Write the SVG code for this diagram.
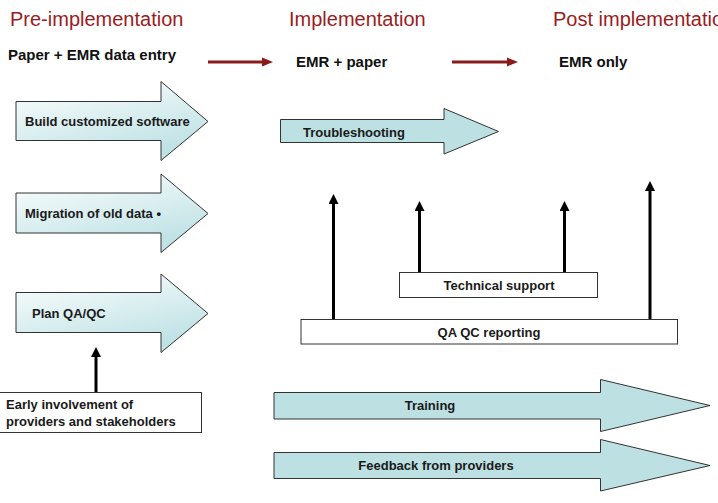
<svg xmlns="http://www.w3.org/2000/svg" width="718" height="503" viewBox="0 0 718 503">
<defs>
<linearGradient id="grad" x1="0" y1="0" x2="0.5" y2="1">
<stop offset="0" stop-color="#ffffff"/>
<stop offset="1" stop-color="#bfe2e5"/>
</linearGradient>
<marker id="blk" markerUnits="userSpaceOnUse" markerWidth="10" markerHeight="10" refX="0" refY="5" orient="auto">
<path d="M0,0 L10,5 L0,10 z" fill="#000"/>
</marker>
<marker id="red" markerUnits="userSpaceOnUse" markerWidth="11" markerHeight="10" refX="0" refY="5" orient="auto">
<path d="M0,0.5 L11,5 L0,9.5 z" fill="#8b1a1a"/>
</marker>
<style>
.phase{font-family:"Liberation Sans",Arial,sans-serif;font-size:20px;fill:#9b1c1c}
.sub{font-family:"Liberation Sans",Arial,sans-serif;font-size:15px;font-weight:bold;fill:#111}
.lbl{font-family:"Liberation Sans",Arial,sans-serif;font-size:13px;font-weight:bold;fill:#1a1a1a}
.garrow{fill:url(#grad);stroke:#333;stroke-width:1}
.barrow{fill:#bde0e3;stroke:#333;stroke-width:1}
.box{fill:#fff;stroke:#333;stroke-width:1}
.conn{stroke:#000;stroke-width:3;fill:none;marker-end:url(#blk)}
.rconn{stroke:#8b1a1a;stroke-width:3;fill:none;marker-end:url(#red)}
</style>
</defs>
<g id="headers">
<text class="phase" x="10" y="26">Pre-implementation</text>
<text class="phase" x="289" y="26">Implementation</text>
<text class="phase" x="553" y="26">Post implementation</text>
<text class="sub" x="8" y="60">Paper + EMR data entry</text>
<text class="sub" x="296" y="67">EMR + paper</text>
<text class="sub" x="559" y="67">EMR only</text>
</g>
<g id="build">
<polygon class="garrow" points="16,101.5 161,101.5 161,81.5 208,121.5 161,160.5 161,140.5 16,140.5"/>
<text class="lbl" x="25" y="126">Build customized software</text>
</g>
<g id="migration">
<polygon class="garrow" points="16,193 161,193 161,174 208,213.5 161,252.5 161,233 16,233"/>
<text class="lbl" x="25" y="218">Migration of old data •</text>
</g>
<g id="planqa">
<polygon class="garrow" points="16,292.5 161,292.5 161,274 208,313.5 161,352.5 161,332.5 16,332.5"/>
<text class="lbl" x="32" y="318">Plan QA/QC</text>
</g>
<g id="early">
<rect class="box" x="-1" y="392.5" width="202.5" height="40"/>
<text class="lbl" x="6" y="409">Early involvement of</text>
<text class="lbl" x="6" y="426">providers and stakeholders</text>
</g>
<g id="troubleshooting">
<polygon class="barrow" points="280.5,119.5 444,119.5 444,108.5 498.5,131.5 444,154 444,142.5 280.5,142.5"/>
<text class="lbl" x="303" y="137">Troubleshooting</text>
</g>
<g id="techsupport">
<rect class="box" x="399.5" y="272.5" width="198" height="25"/>
<text class="lbl" x="499" y="290" text-anchor="middle">Technical support</text>
</g>
<g id="qaqc">
<rect class="box" x="301" y="319.5" width="376.5" height="24.5"/>
<text class="lbl" x="489" y="337" text-anchor="middle">QA QC reporting</text>
</g>
<g id="training">
<polygon class="barrow" points="274,392.5 600.5,392.5 600.5,379.5 710,405.5 600.5,431.5 600.5,419 274,419"/>
<text class="lbl" x="430" y="410" text-anchor="middle">Training</text>
</g>
<g id="feedback">
<polygon class="barrow" points="274,452.5 600.5,452.5 600.5,439.5 710,465.5 600.5,491 600.5,478.5 274,478.5"/>
<text class="lbl" x="436" y="470" text-anchor="middle">Feedback from providers</text>
</g>
<g id="connectors">
<line class="rconn" x1="208" y1="62" x2="262" y2="62"/>
<line class="rconn" x1="452" y1="62" x2="507" y2="62"/>
<line class="conn" x1="96" y1="392" x2="96" y2="357"/>
<line class="conn" x1="333.5" y1="319" x2="333.5" y2="204"/>
<line class="conn" x1="419.5" y1="272" x2="419.5" y2="211"/>
<line class="conn" x1="564.5" y1="272" x2="564.5" y2="211"/>
<line class="conn" x1="650" y1="319" x2="650" y2="191"/>
</g>
</svg>
